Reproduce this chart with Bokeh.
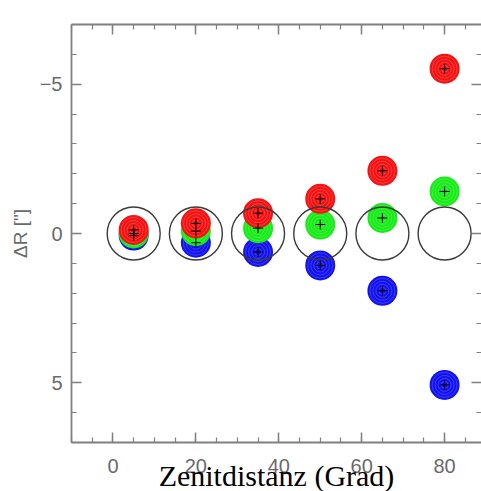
from bokeh.plotting import figure
from bokeh.models import Range1d, LinearAxis, FixedTicker
from bokeh.embed import file_html
from bokeh.resources import INLINE

# ---- data ----
zenith = [5, 20, 35, 50, 65, 80]
dR_red = [-0.12, -0.34, -0.68, -1.16, -2.10, -5.52]
dR_green = [0.0, -0.08, -0.18, -0.30, -0.52, -1.41]
dR_blue = [0.07, 0.31, 0.62, 1.07, 1.92, 5.07]
ref_offset = [0, 0, 0, 0, 0, 0]

x_ticks = [0, 20, 40, 60, 80]
x_tick_labels = ["0", "20", "40", "60", "80"]
y_ticks = [-5, 0, 5]
y_tick_labels = ["\u22125", "0", "5"]
x_title = "Zenitdistanz (Grad)"
y_title = "\u0394R [\"]"

x_minor = list(range(-10, 95, 5))
y_minor = list(range(-7, 8, 1))

p = figure(width=481, height=497, output_backend="svg", toolbar_location=None,
           x_range=Range1d(-10, 88.9), y_range=Range1d(7, -7),
           min_border_left=71, min_border_right=0, min_border_top=24,
           min_border_bottom=55)
p.outline_line_color = None
p.grid.visible = False
p.background_fill_color = "white"
p.border_fill_color = "white"

AX = "#808080"

def style_axis(ax, ticks, minor, labels=None, show_labels=True):
    ax.ticker = FixedTicker(ticks=ticks, minor_ticks=minor)
    ax.major_tick_in = 10
    ax.major_tick_out = 0
    ax.minor_tick_in = 5
    ax.minor_tick_out = 0
    ax.major_tick_line_color = AX
    ax.minor_tick_line_color = AX
    ax.major_tick_line_width = 1.5
    ax.minor_tick_line_width = 1.2
    ax.axis_line_color = AX
    ax.axis_line_width = 1.8
    if show_labels:
        ax.major_label_overrides = {t: l for t, l in zip(ticks, labels)}
        ax.major_label_text_font = "Liberation Sans"
        ax.major_label_text_font_size = "20px"
        ax.major_label_text_color = "#6a6a6a"
    else:
        ax.major_label_text_font_size = "1px"
        ax.major_label_text_color = None
        ax.major_label_standoff = 0

# bottom
xb = p.xaxis[0]
style_axis(xb, x_ticks, x_minor, x_tick_labels)
xb.major_label_standoff = 16
xb.axis_label = x_title
xb.axis_label_text_font = "Liberation Serif"
xb.axis_label_text_font_size = "30px"
xb.axis_label_text_font_style = "normal"
xb.axis_label_text_color = "black"
xb.axis_label_standoff = -17

# left
yl = p.yaxis[0]
style_axis(yl, y_ticks, y_minor, y_tick_labels)
yl.major_label_standoff = 9
yl.axis_label = y_title
yl.axis_label_text_font = "Liberation Sans"
yl.axis_label_text_font_size = "19px"
yl.axis_label_text_font_style = "normal"
yl.axis_label_text_color = "#6a6a6a"
yl.axis_label_standoff = 6

# top and right (ticks only)
xt = LinearAxis()
style_axis(xt, x_ticks, x_minor, show_labels=False)
p.add_layout(xt, "above")
yr = LinearAxis()
style_axis(yr, y_ticks, y_minor, show_labels=False)
yr.axis_line_color = None
p.add_layout(yr, "right")

# ---- colored dots ----
ring_sizes = [7, 13, 19, 25]
for vals, col in ((dR_blue, "#1212f0"), (dR_green, "#18ec18"), (dR_red, "#f51212")):
    p.scatter(zenith, vals, size=30, fill_color=col, line_color=None)
    for s in ring_sizes:
        p.scatter(zenith, vals, size=s, fill_color=None, line_color="white",
                  line_alpha=0.18, line_width=1)

# reference circles
p.scatter(zenith, ref_offset, size=53, fill_color=None, line_color="#3a3a3a",
          line_width=1.4)

# plus markers
for vals in (dR_blue, dR_green, dR_red):
    p.scatter(zenith, vals, marker="cross", size=10, line_color="black",
              line_width=1)

open("out.html", "w").write(file_html(p, INLINE))
